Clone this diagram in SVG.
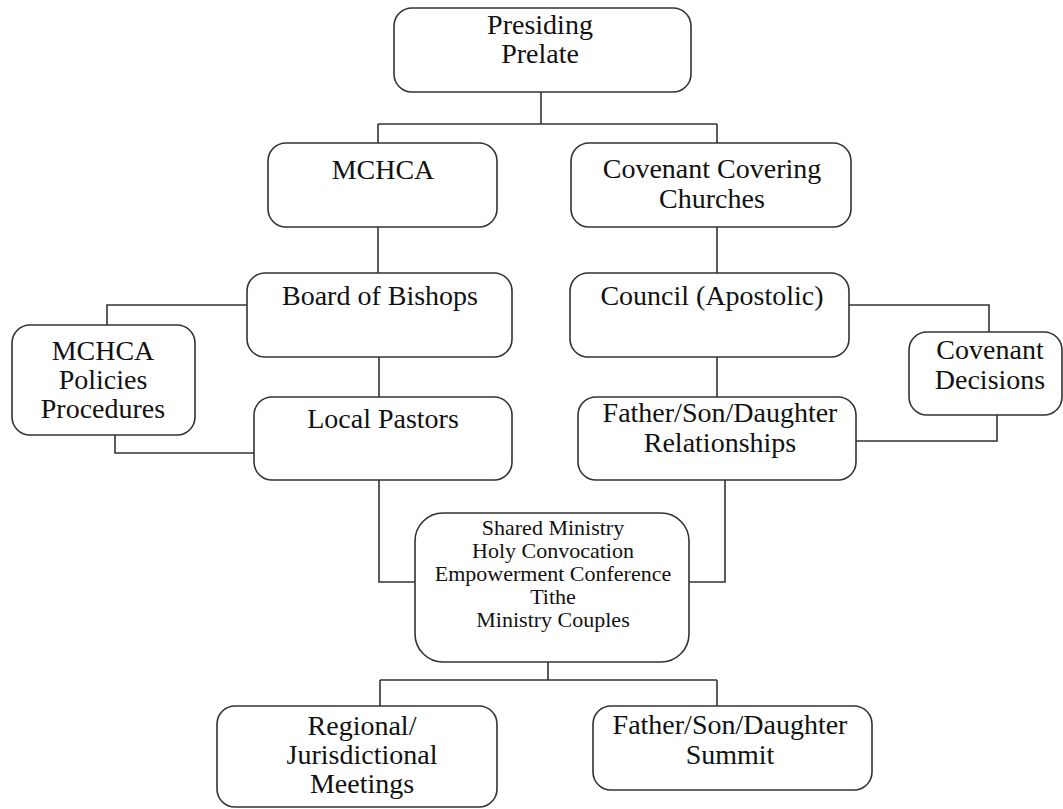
<svg xmlns="http://www.w3.org/2000/svg" width="1063" height="809" viewBox="0 0 1063 809">
<style>
.box{fill:#fff;stroke:#333;stroke-width:1.6}
.c{fill:none;stroke:#333;stroke-width:1.6}
text{font-family:"Liberation Serif","Times New Roman",serif;font-size:28px;fill:#111;text-anchor:middle}
.s{font-size:22px}
</style>
<rect width="1063" height="809" fill="#fff"/>
<g id="connectors">
<path class="c" d="M541,92V124M378,124H717M378,124V143M717,124V143"/>
<path class="c" d="M378,227V274M717,227V274"/>
<path class="c" d="M247,305H107V325"/>
<path class="c" d="M379,357V397M717,357V397"/>
<path class="c" d="M115,435V453H254"/>
<path class="c" d="M849,305H989V332"/>
<path class="c" d="M997,415V441H856"/>
<path class="c" d="M379,480V582H415M725,480V582H689"/>
<path class="c" d="M548,662V680M380,680H717M380,680V706M717,680V706"/>
</g>
<g id="presiding"><rect class="box" x="394" y="8" width="297" height="84" rx="18"/><text x="540" y="34">Presiding</text><text x="540" y="63">Prelate</text></g>
<g id="mchca"><rect class="box" x="268" y="143" width="229" height="84" rx="18"/><text x="383" y="179">MCHCA</text></g>
<g id="ccc"><rect class="box" x="571" y="143" width="280" height="84" rx="18"/><text x="712" y="178">Covenant Covering</text><text x="712" y="208">Churches</text></g>
<g id="board"><rect class="box" x="247" y="273" width="265" height="84" rx="18"/><text x="380" y="305">Board of Bishops</text></g>
<g id="council"><rect class="box" x="570" y="273" width="279" height="84" rx="18"/><text x="712" y="305">Council (Apostolic)</text></g>
<g id="policies"><rect class="box" x="12" y="325" width="183" height="110" rx="18"/><text x="103" y="360">MCHCA</text><text x="103" y="389">Policies</text><text x="103" y="418">Procedures</text></g>
<g id="pastors"><rect class="box" x="254" y="397" width="258" height="83" rx="18"/><text x="383" y="428">Local Pastors</text></g>
<g id="decisions"><rect class="box" x="909" y="332" width="153" height="83" rx="18"/><text x="990" y="359">Covenant</text><text x="990" y="389">Decisions</text></g>
<g id="relationships"><rect class="box" x="578" y="397" width="278" height="83" rx="18"/><text x="720" y="422">Father/Son/Daughter</text><text x="720" y="452">Relationships</text></g>
<g id="shared"><rect class="box" x="415" y="513" width="274" height="149" rx="28"/><text class="s" x="553" y="535">Shared Ministry</text><text class="s" x="553" y="558">Holy Convocation</text><text class="s" x="553" y="581">Empowerment Conference</text><text class="s" x="553" y="604">Tithe</text><text class="s" x="553" y="627">Ministry Couples</text></g>
<g id="regional"><rect class="box" x="217" y="706" width="280" height="101" rx="18"/><text x="362" y="735">Regional/</text><text x="362" y="764">Jurisdictional</text><text x="362" y="793">Meetings</text></g>
<g id="summit"><rect class="box" x="593" y="706" width="279" height="84" rx="18"/><text x="730" y="734">Father/Son/Daughter</text><text x="730" y="764">Summit</text></g>
</svg>
